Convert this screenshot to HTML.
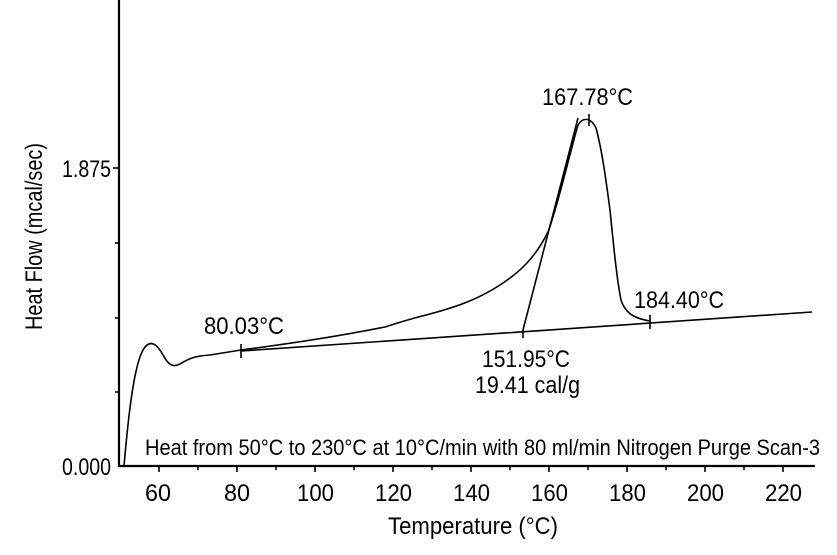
<!DOCTYPE html>
<html><head><style>body{margin:0;background:#fff}svg{display:block}text{font-family:"Liberation Sans",sans-serif;fill:#000}</style></head>
<body>
<svg width="837" height="555" viewBox="0 0 837 555">
<g stroke="#000" stroke-width="2.2" fill="none">
<line x1="119" y1="0" x2="119" y2="467"/>
<line x1="118" y1="466" x2="815" y2="466"/>
</g>
<g stroke="#000" stroke-width="1.6">
<line x1="113" y1="168" x2="119" y2="168"/>
<line x1="115" y1="243" x2="119" y2="243"/>
<line x1="115" y1="318" x2="119" y2="318"/>
<line x1="115" y1="392" x2="119" y2="392"/>
<line x1="159" y1="466" x2="159" y2="472"/><line x1="198" y1="466" x2="198" y2="470"/>
<line x1="237" y1="466" x2="237" y2="472"/><line x1="276" y1="466" x2="276" y2="470"/>
<line x1="315" y1="466" x2="315" y2="472"/><line x1="354" y1="466" x2="354" y2="470"/>
<line x1="393" y1="466" x2="393" y2="472"/><line x1="432" y1="466" x2="432" y2="470"/>
<line x1="471" y1="466" x2="471" y2="472"/><line x1="510" y1="466" x2="510" y2="470"/>
<line x1="549" y1="466" x2="549" y2="472"/><line x1="588" y1="466" x2="588" y2="470"/>
<line x1="627" y1="466" x2="627" y2="472"/><line x1="666" y1="466" x2="666" y2="470"/>
<line x1="705" y1="466" x2="705" y2="472"/><line x1="744" y1="466" x2="744" y2="470"/>
<line x1="783" y1="466" x2="783" y2="472"/>
</g>
<g stroke="#000" stroke-width="1.6" fill="none">
<path d="M124,466 C128,420 134,360 145,347 C152,339 158,346 163,355 C168,364 172,368 180,364 C190,358 195,356 210,355 L241,350 C280,345 330,338 385,327 C400,322 410,319 430,314 C460,306 480,298 500,285 C520,272 535,258 548,232 C558,205 568,160 578,125 C582,118 590,116 596,128 C602,150 606,180 610,210 C614,250 617,280 621,300 C625,312 632,318 650,321"/>
<line x1="241" y1="351" x2="812" y2="312"/>
<line x1="523" y1="330" x2="578" y2="118"/>
<line x1="241" y1="344" x2="241" y2="358"/>
<line x1="589" y1="114" x2="589" y2="126"/>
<line x1="650" y1="315" x2="650" y2="329"/>
<line x1="523" y1="330" x2="523" y2="338"/>
</g>
<g font-size="24">
<text x="62" y="177" textLength="49" lengthAdjust="spacingAndGlyphs">1.875</text>
<text x="62" y="475" textLength="49" lengthAdjust="spacingAndGlyphs">0.000</text>
<text x="145" y="501" textLength="26" lengthAdjust="spacingAndGlyphs">60</text>
<text x="224" y="501" textLength="26" lengthAdjust="spacingAndGlyphs">80</text>
<text x="297" y="501" textLength="37" lengthAdjust="spacingAndGlyphs">100</text>
<text x="375" y="501" textLength="37" lengthAdjust="spacingAndGlyphs">120</text>
<text x="453" y="501" textLength="37" lengthAdjust="spacingAndGlyphs">140</text>
<text x="531" y="501" textLength="37" lengthAdjust="spacingAndGlyphs">160</text>
<text x="609" y="501" textLength="37" lengthAdjust="spacingAndGlyphs">180</text>
<text x="687" y="501" textLength="37" lengthAdjust="spacingAndGlyphs">200</text>
<text x="765" y="501" textLength="37" lengthAdjust="spacingAndGlyphs">220</text>
<text x="388" y="534" textLength="170" lengthAdjust="spacingAndGlyphs">Temperature (°C)</text>
<text x="204" y="334" textLength="80" lengthAdjust="spacingAndGlyphs">80.03°C</text>
<text x="542" y="105" textLength="91" lengthAdjust="spacingAndGlyphs">167.78°C</text>
<text x="634" y="308" textLength="90" lengthAdjust="spacingAndGlyphs">184.40°C</text>
<text x="482" y="367" textLength="88" lengthAdjust="spacingAndGlyphs">151.95°C</text>
<text x="475" y="393" textLength="105" lengthAdjust="spacingAndGlyphs">19.41 cal/g</text>
<text x="145" y="455" font-size="22" textLength="675" lengthAdjust="spacingAndGlyphs">Heat from 50°C to 230°C at 10°C/min with 80 ml/min Nitrogen Purge Scan-3</text>
<text transform="translate(42,330) rotate(-90)" textLength="187" lengthAdjust="spacingAndGlyphs">Heat Flow (mcal/sec)</text>
</g>
</svg>
</body></html>
